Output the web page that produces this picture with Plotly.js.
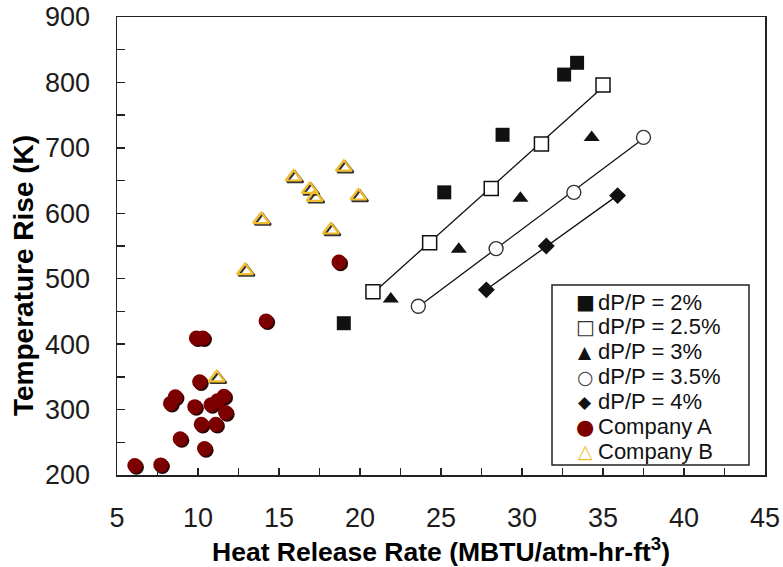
<!DOCTYPE html>
<html>
<head>
<meta charset="utf-8">
<script src="https://cdn.plot.ly/plotly-3.0.1.min.js"></script>
<style>
html,body{margin:0;padding:0;background:#fff;}
#chart{width:783px;height:567px;}
</style>
</head>
<body>
<div id="chart"></div>
<script>
// ---- data ----
const dp2_x = [19.0, 25.2, 28.8, 32.6, 33.4];
const dp2_y = [432, 632, 720, 812, 830];

const dp25_x = [20.8, 24.3, 28.1, 31.2, 35.0];
const dp25_y = [480, 555, 638, 706, 796];

const dp3_x = [21.9, 26.1, 29.9, 34.3];
const dp3_y = [469, 545, 623, 716];

const dp35_x = [23.6, 28.4, 33.2, 37.5];
const dp35_y = [458, 546, 632, 716];

const dp4_x = [27.8, 31.5, 35.9];
const dp4_y = [483, 550, 627];

const compA_x = [6.2, 7.8, 9.0, 8.4, 8.7, 9.9, 10.2, 10.0, 10.4, 10.5, 10.3, 11.2, 10.9, 11.3, 11.7, 11.8, 14.3, 18.8];
const compA_y = [212, 213, 253, 307, 317, 302, 340, 407, 407, 238, 275, 275, 305, 311, 318, 293, 433, 523];

const compB_x = [11.25, 13.0, 14.0, 16.0, 17.0, 17.3, 18.3, 19.1, 20.0];
const compB_y = [346, 510, 588, 653, 634, 622, 572, 668, 624];

const seriesNames = ['dP/P = 2%', 'dP/P = 2.5%', 'dP/P = 3%', 'dP/P = 3.5%', 'dP/P = 4%', 'Company A', 'Company B'];

const xTitle = 'Heat Release Rate (MBTU/atm-hr-ft<sup>3</sup>)';
const yTitle = 'Temperature Rise (K)';

// ---- helpers ----
function fitLine(xs, ys) {
  const n = xs.length;
  const mx = xs.reduce((a, b) => a + b, 0) / n;
  const my = ys.reduce((a, b) => a + b, 0) / n;
  let sxy = 0, sxx = 0;
  for (let i = 0; i < n; i++) { sxy += (xs[i] - mx) * (ys[i] - my); sxx += (xs[i] - mx) ** 2; }
  const m = sxy / sxx, b = my - m * mx;
  const x0 = Math.min(...xs), x1 = Math.max(...xs);
  return { x: [x0, x1], y: [m * x0 + b, m * x1 + b] };
}
function lineTrace(xs, ys) {
  const f = fitLine(xs, ys);
  return { x: f.x, y: f.y, mode: 'lines', line: { color: '#111', width: 1.3 }, showlegend: false, hoverinfo: 'skip' };
}

const BLK = '#111';
const RED = '#7d0000';
const GOLD = '#f2bd2c';
const traces = [
  lineTrace(dp25_x, dp25_y),
  lineTrace(dp35_x, dp35_y),
  lineTrace(dp4_x, dp4_y),
  // shadows for company markers
  { x: compA_x, y: compA_y, mode: 'markers', showlegend: false, hoverinfo: 'skip',
    marker: { symbol: 'circle', size: 15, color: '#2a0505' } },
  { x: compB_x, y: compB_y, mode: 'markers', showlegend: false, hoverinfo: 'skip',
    marker: { symbol: 'triangle-up-open', size: 14, color: '#333', line: { width: 2.2, color: '#333' } } },
  { x: dp2_x, y: dp2_y, name: seriesNames[0], mode: 'markers',
    marker: { symbol: 'square', size: 14, color: BLK } },
  { x: dp25_x, y: dp25_y, name: seriesNames[1], mode: 'markers',
    marker: { symbol: 'square', size: 14, color: '#fff', line: { width: 1.5, color: BLK } } },
  { x: dp3_x, y: dp3_y, name: seriesNames[2], mode: 'markers',
    marker: { symbol: 'triangle-up', size: 14, color: BLK } },
  { x: dp35_x, y: dp35_y, name: seriesNames[3], mode: 'markers',
    marker: { symbol: 'circle', size: 14, color: '#fff', line: { width: 1.4, color: '#333' } } },
  { x: dp4_x, y: dp4_y, name: seriesNames[4], mode: 'markers',
    marker: { symbol: 'diamond', size: 13, color: BLK } },
  { x: compA_x, y: compA_y, name: seriesNames[5], mode: 'markers', xaxis: 'x2', yaxis: 'y2',
    marker: { symbol: 'circle', size: 15, color: RED } },
  { x: compB_x, y: compB_y, name: seriesNames[6], mode: 'markers', xaxis: 'x2', yaxis: 'y2',
    marker: { symbol: 'triangle-up-open', size: 14, color: GOLD, line: { width: 2.2, color: GOLD } } }
];

// ---- custom legend (tight line spacing as in the reference) ----
const legSymbols = ['■', '□', '▲', '○', '◆', '●', '△'];
const legColors = [BLK, '#333', BLK, '#444', BLK, RED, GOLD];
const legSizes = [20, 20, 17, 19, 17, 21, 19];
const plotL = 117, plotT = 17, plotW = 648, plotH = 458;
const px2x = p => (p - plotL) / plotW;
const py2y = p => (plotT + plotH - p) / plotH;
const legRow0 = 302, legStep = 24.9;
const annotations = [];
seriesNames.forEach((nm, i) => {
  const yy = py2y(legRow0 + i * legStep);
  annotations.push({ xref: 'paper', yref: 'paper', x: px2x(585), y: yy, xanchor: 'center', yanchor: 'middle',
    text: legSymbols[i], showarrow: false,
    font: { family: 'DejaVu Sans, sans-serif', size: legSizes[i], color: legColors[i] } });
  annotations.push({ xref: 'paper', yref: 'paper', x: px2x(596), y: yy, xanchor: 'left', yanchor: 'middle',
    text: nm, showarrow: false,
    font: { family: 'Liberation Sans, Arial, sans-serif', size: 22, color: '#111' } });
});
// y-axis title (placed like the reference, slightly below the axis centre)
annotations.push({ xref: 'paper', yref: 'paper', x: px2x(23), y: py2y(276), xanchor: 'center', yanchor: 'middle',
  text: yTitle, textangle: -90, showarrow: false,
  font: { family: 'Liberation Sans, Arial, sans-serif', size: 28, color: '#000', weight: 'bold' } });

const pxPerX = plotW / 40, pxPerY = plotH / 700, sh = 1.6;
const tickFont = { family: 'Liberation Sans, Arial, sans-serif', size: 27, color: '#1c1c1c' };

const layout = {
  width: 783, height: 567,
  margin: { l: plotL, r: 783 - plotL - plotW, t: plotT, b: 567 - plotT - plotH },
  paper_bgcolor: '#fff', plot_bgcolor: '#fff',
  showlegend: false,
  xaxis: {
    range: [5, 45], dtick: 5, tick0: 5, ticks: 'inside', ticklen: 7, tickwidth: 1.5, tickcolor: '#222',
    minor: { dtick: 2.5, ticks: 'inside', ticklen: 7, tickwidth: 1.5, tickcolor: '#222', showgrid: false },
    showgrid: false, zeroline: false, showline: true, linecolor: '#222', linewidth: 1.5, mirror: true,
    tickfont: tickFont, ticklabelstandoff: 18,
    title: { text: xTitle, font: { family: 'Liberation Sans, Arial, sans-serif', size: 26.5, color: '#000', weight: 'bold' }, standoff: 0 }
  },
  yaxis: {
    range: [200, 900], dtick: 100, tick0: 200, ticks: 'inside', ticklen: 8, tickwidth: 1.5, tickcolor: '#222',
    minor: { dtick: 50, ticks: 'inside', ticklen: 8, tickwidth: 1.5, tickcolor: '#222', showgrid: false },
    showgrid: false, zeroline: false, showline: true, linecolor: '#222', linewidth: 1.5, mirror: true,
    tickfont: tickFont, ticklabelstandoff: 20
  },
  xaxis2: { overlaying: 'x', anchor: 'y2', visible: false,
    range: [5 + sh / pxPerX, 45 + sh / pxPerX] },
  yaxis2: { overlaying: 'y', anchor: 'x2', visible: false,
    range: [200 - sh / pxPerY, 900 - sh / pxPerY] },
  shapes: [
    { type: 'rect', xref: 'paper', yref: 'paper', x0: px2x(552), x1: px2x(749), y0: py2y(465), y1: py2y(285),
      line: { color: '#222', width: 1.5 }, fillcolor: '#fff', layer: 'above' }
  ],
  annotations: annotations
};

Plotly.newPlot('chart', traces, layout, { staticPlot: true, displayModeBar: false });
</script>
</body>
</html>
